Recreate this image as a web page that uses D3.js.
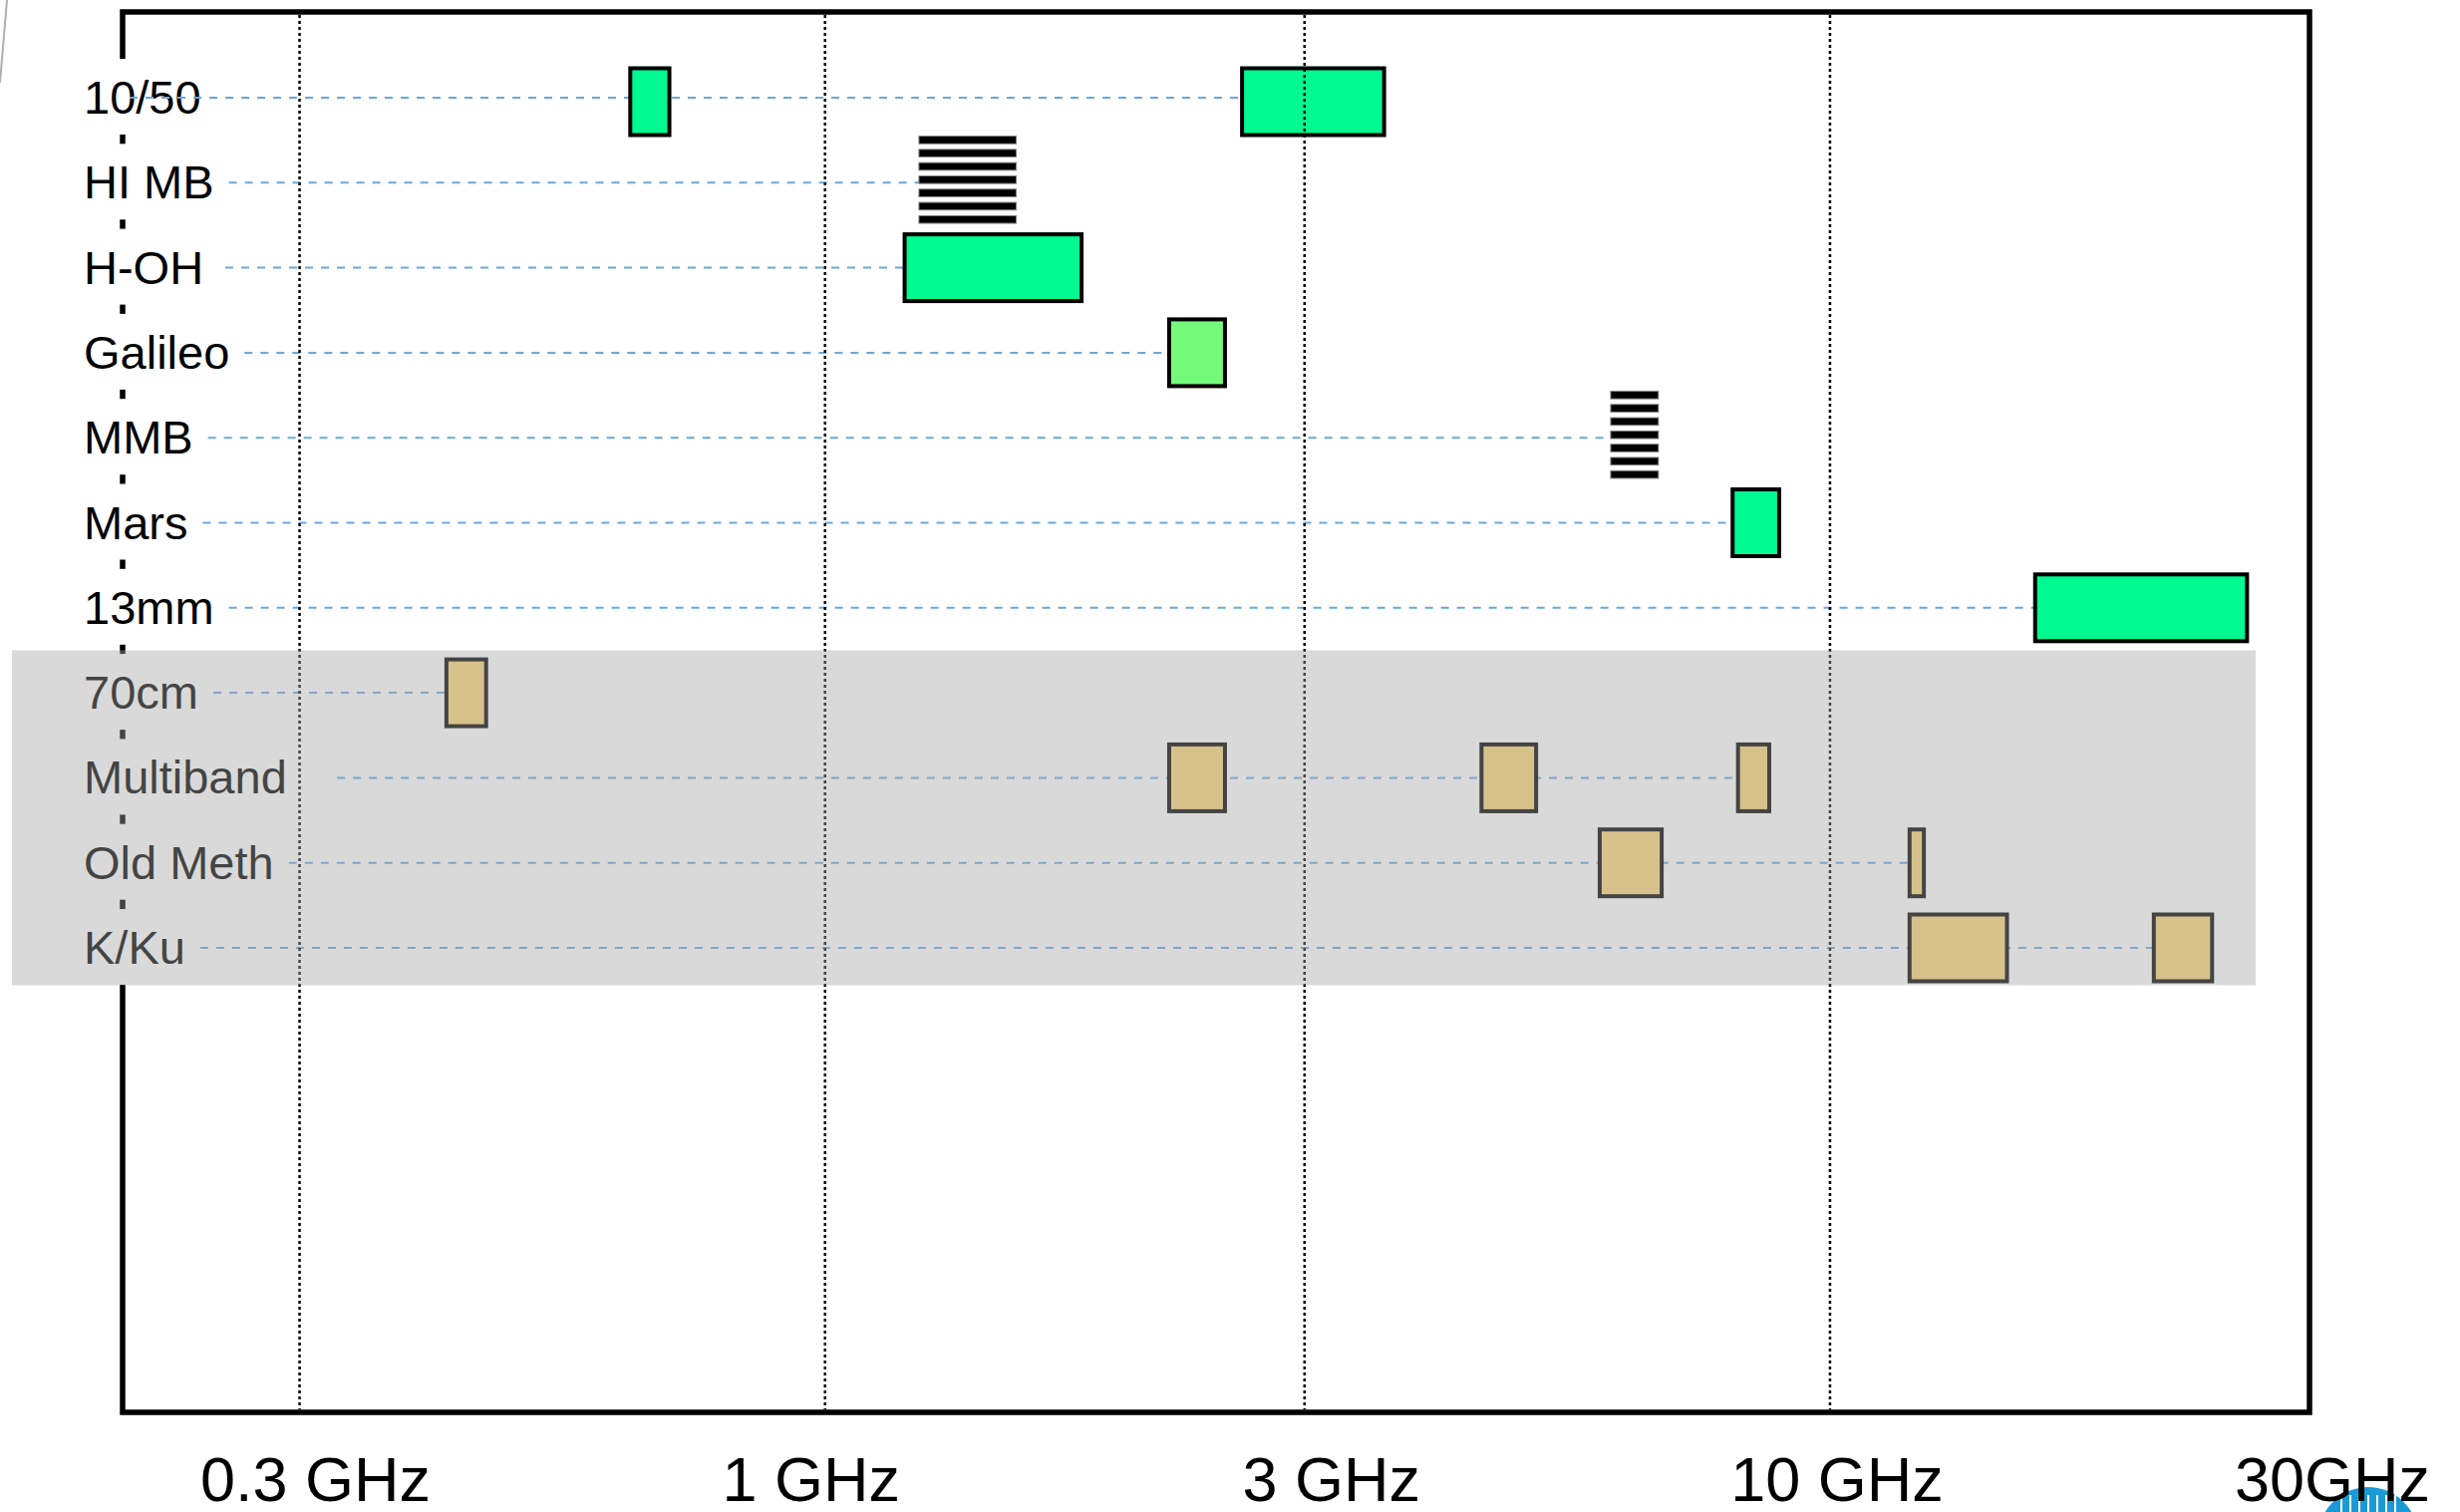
<!DOCTYPE html>
<html>
<head>
<meta charset="utf-8">
<script src="https://cdn.jsdelivr.net/npm/d3@7"></script>
<style>
  body { margin: 0; background: #fff; }
  svg { display: block; }
  text { font-family: "Liberation Sans", Arial, sans-serif; }
</style>
</head>
<body>
<figure id="bands" style="margin:0"></figure>
<script>
// receiver rows, top to bottom
const rows = ["10/50", "HI MB", "H-OH", "Galileo", "MMB", "Mars", "13mm",
              "70cm", "Multiband", "Old Meth", "K/Ku"];

// frequency coverage of each band, GHz
const bandRow  = ["10/50", "10/50", "HI MB", "H-OH", "Galileo", "MMB", "Mars", "13mm",
                  "70cm", "Multiband", "Multiband", "Multiband", "Old Meth", "Old Meth", "K/Ku", "K/Ku"];
const bandLow  = [0.64, 2.6, 1.24, 1.2, 2.2, 6.05, 8.0, 16, 0.42, 2.2, 4.5, 8.1, 5.9, 12.0, 12.0, 21];
const bandHigh = [0.70, 3.6, 1.55, 1.8, 2.5, 6.75, 8.9, 26, 0.46, 2.5, 5.1, 8.7, 6.8, 12.4, 15.0, 24];
const bandType = ["new", "new", "lines", "new", "galileo", "lines", "new", "new",
                  "old", "old", "old", "old", "old", "old", "old", "old"];

// rows greyed out at the bottom
const shadedRows = ["70cm", "Multiband", "Old Meth", "K/Ku"];

const tickValues = [0.3, 1, 3, 10, 30];
const tickLabels = ["0.3 GHz", "1 GHz", "3 GHz", "10 GHz", "30GHz"];

const width = 2468;
const height = 1517;
const frame = {left: 123, top: 12, right: 2317, bottom: 1417};

const svg = d3.select("figure#bands")
  .append("svg")
  .attr("width", width)
  .attr("height", height);

svg.append("rect").attr("width", width).attr("height", height).attr("fill", "#fff");

const x = d3.scaleLog()
  .domain([0.2, 30])
  .range([frame.left, frame.right]);

const y = d3.scalePoint()
  .domain(rows)
  .range([98, 951]);

const fillFor = d3.scaleOrdinal()
  .domain(["new", "galileo", "old"])
  .range(["#00f990", "#74f97a", "#fed87a"]);

const bands = bandRow.map((r, i) => ({row: r, lo: bandLow[i], hi: bandHigh[i], type: bandType[i]}));

// slide artefact, top left
svg.append("line")
  .attr("x1", 7).attr("y1", 0).attr("x2", 0).attr("y2", 83)
  .attr("stroke", "#b0b0b0").attr("stroke-width", 2);

// frame
svg.append("rect")
  .attr("x", frame.left).attr("y", frame.top)
  .attr("width", frame.right - frame.left)
  .attr("height", frame.bottom - frame.top)
  .attr("fill", "none")
  .attr("stroke", "#000")
  .attr("stroke-width", 5.5);

// row labels on white boxes that break the left axis
const labels = svg.append("g");
const labelGroups = labels.selectAll("g")
  .data(rows)
  .enter()
  .append("g");

labelGroups.append("rect").attr("class", "lbox");
labelGroups.append("text")
  .text(d => d)
  .attr("x", 84)
  .attr("y", d => y(d) + 16)
  .style("font-size", "47px")
  .attr("fill", "#000");

const textEnd = {};
labelGroups.each(function (d) {
  const t = d3.select(this).select("text").node();
  textEnd[d] = 84 + t.getComputedTextLength();
});
labelGroups.select("rect.lbox")
  .attr("x", 78)
  .attr("y", d => y(d) - 39)
  .attr("width", d => textEnd[d] - 70)
  .attr("height", 76)
  .attr("fill", "#fff");

// dashed leader lines from label to the last band of the row
const leaderStart = {"10/50": 130, "Multiband": 338, "H-OH": 226};
const lastLow = d3.rollup(bands, v => d3.max(v, b => b.lo), b => b.row);

svg.append("g")
  .selectAll("line")
  .data(rows)
  .enter()
  .append("line")
  .attr("x1", d => leaderStart[d] || textEnd[d] + 15)
  .attr("x2", d => x(lastLow.get(d)))
  .attr("y1", d => y(d))
  .attr("y2", d => y(d))
  .attr("stroke", "#6aa8dc")
  .attr("stroke-width", 2)
  .attr("stroke-dasharray", "8,8");

// solid bands
const boxH = 67;
svg.append("g")
  .selectAll("rect")
  .data(bands.filter(b => b.type !== "lines"))
  .enter()
  .append("rect")
  .attr("x", d => x(d.lo))
  .attr("y", d => y(d.row) - boxH / 2 + (d.row === "10/50" ? 4 : 0))
  .attr("width", d => x(d.hi) - x(d.lo))
  .attr("height", boxH)
  .attr("fill", d => fillFor(d.type))
  .attr("stroke", "#000")
  .attr("stroke-width", 4);

// striped bands (planned receivers)
const stripeN = 7, stripeStep = 13.3, stripeH = 7.7;
const striped = bands.filter(b => b.type === "lines");
svg.append("g")
  .selectAll("g")
  .data(striped)
  .enter()
  .append("g")
  .each(function (d) {
    const top = y(d.row) - 3 - ((stripeN - 1) * stripeStep + stripeH) / 2;
    d3.select(this).selectAll("rect")
      .data(d3.range(stripeN))
      .enter()
      .append("rect")
      .attr("x", x(d.lo))
      .attr("y", i => top + i * stripeStep)
      .attr("width", x(d.hi) - x(d.lo))
      .attr("height", stripeH)
      .attr("fill", "#000")
      .attr("stroke", "#8a8a8a")
      .attr("stroke-width", 1);
  });

// dotted frequency gridlines
svg.append("g")
  .selectAll("line")
  .data(tickValues.filter(t => t < 30))
  .enter()
  .append("line")
  .attr("x1", d => x(d)).attr("x2", d => x(d))
  .attr("y1", frame.top + 3).attr("y2", frame.bottom - 3)
  .attr("stroke", "#000")
  .attr("stroke-width", 2.5)
  .attr("stroke-dasharray", "3,3");

// grey veil over the old receivers
const step = y.step();
const veilTop = y(shadedRows[0]) - step / 2;
const veilBottom = y(shadedRows[shadedRows.length - 1]) + step * 0.44;
svg.append("rect")
  .attr("x", 12)
  .attr("y", veilTop)
  .attr("width", 2263 - 12)
  .attr("height", veilBottom - veilTop)
  .attr("fill", "#a3a3a3")
  .attr("opacity", 0.416);

// logo peeking in at the bottom right
const logo = svg.append("g");
logo.append("circle")
  .attr("cx", 2376).attr("cy", 1542).attr("r", 50)
  .attr("fill", "#1b9ad6");
logo.selectAll("line")
  .data(d3.range(-3, 4))
  .enter()
  .append("line")
  .attr("x1", d => 2376 + d * 9).attr("x2", d => 2376 + d * 9)
  .attr("y1", 1500).attr("y2", 1517)
  .attr("stroke", "#fff")
  .attr("stroke-width", 2);

// frequency labels, hand placed under the gridlines as on the slide
const tickNudge = [16, -14, 27, 7, 23];
svg.append("g")
  .selectAll("text")
  .data(tickValues)
  .enter()
  .append("text")
  .text((d, i) => tickLabels[i])
  .attr("x", (d, i) => x(d) + tickNudge[i])
  .attr("y", 1506)
  .attr("text-anchor", "middle")
  .style("font-size", "63px")
  .attr("fill", "#000");
</script>
</body>
</html>
